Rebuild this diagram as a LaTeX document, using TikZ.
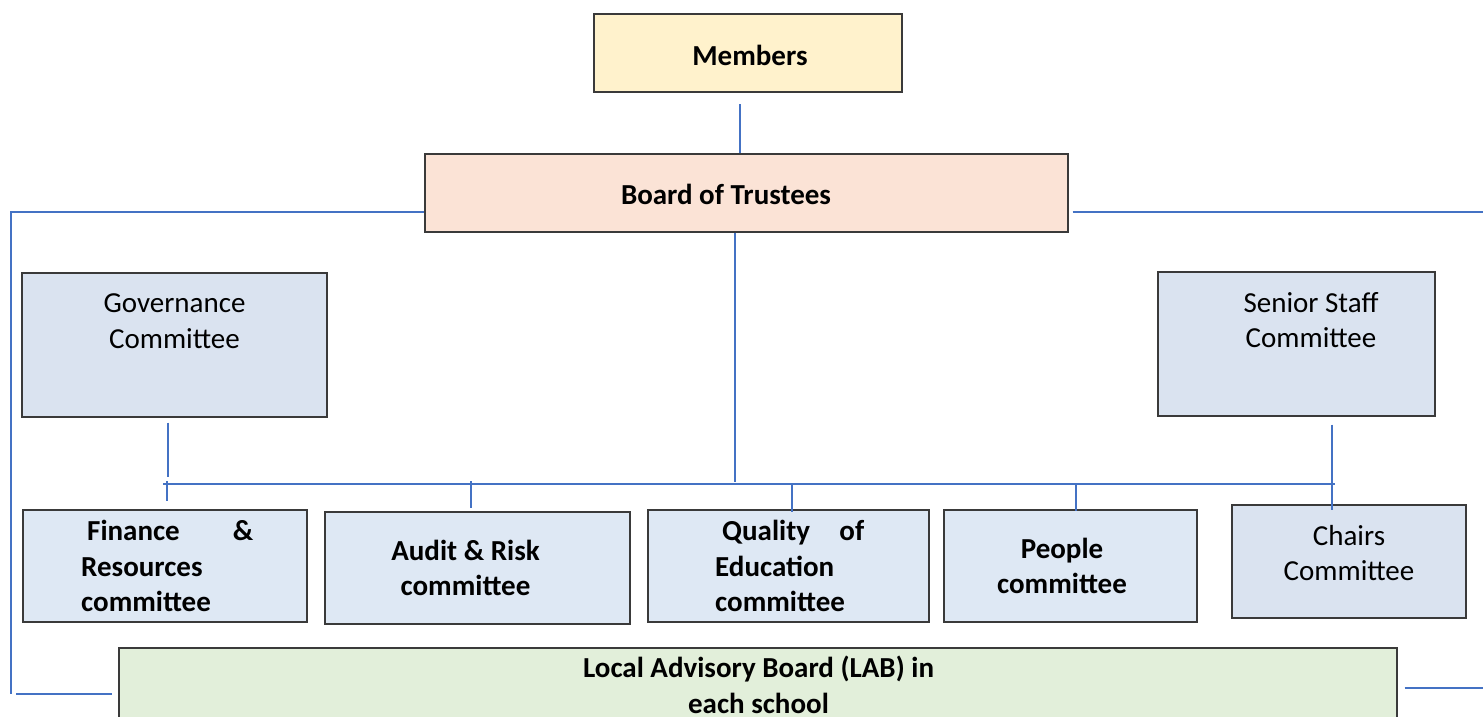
\documentclass[tikz,border=0pt]{standalone}
\usepackage{fontspec}
\setmainfont{Carlito}
\usetikzlibrary{calc}
\definecolor{linkblue}{HTML}{4472C4}
\definecolor{edge}{HTML}{3A3A3A}
\definecolor{memfill}{HTML}{FFF2CC}
\definecolor{botfill}{HTML}{FBE3D6}
\definecolor{comfill}{HTML}{DEE8F4}
\definecolor{grpfill}{HTML}{DAE3F0}
\definecolor{labfill}{HTML}{E2EFDA}
\tikzset{
  box/.style={draw=edge, line width=1.3pt, inner sep=0pt},
  conn/.style={draw=linkblue, line width=1.3pt},
  txt/.style={font=\fontsize{29}{35.5}\selectfont, align=center, inner sep=0pt},
  btxt/.style={txt, font=\fontsize{29}{35.5}\selectfont\bfseries},
}
\begin{document}
\begin{tikzpicture}[x=1pt, y=-1pt]
\path[clip] (0,0) rectangle (1483,717);
\useasboundingbox (0,0) rectangle (1483,717);
\fill[white] (0,0) rectangle (1483,717);

% boxes
\node[box, fill=memfill, minimum width=308pt, minimum height=78pt] (mem) at (748,53) {};
\node[btxt] (memt) at (750,55) {Members};
\node[box, fill=botfill, minimum width=643pt, minimum height=78pt] (bot) at (746.5,193) {};
\node[btxt] (bott) at (726,194) {Board of Trustees};

\node[box, fill=grpfill, minimum width=305pt, minimum height=144pt] (gov) at (174.5,345) {};
\node[txt] (govt) at (174.5,321) {Governance\\Committee};
\node[box, fill=grpfill, minimum width=277pt, minimum height=144pt] (sen) at (1296.5,344) {};
\node[txt] (sent) at (1311,320) {Senior Staff\\Committee};

\node[box, fill=comfill, minimum width=284pt, minimum height=112pt] (fin) at (165,566) {};
\node[btxt, align=left, anchor=west] (fint) at (81,566) {\hbox to 172pt{\hspace{6pt}Finance\hfill\&}\\Resources\\committee};
\node[box, fill=comfill, minimum width=305pt, minimum height=112pt] (aud) at (477.5,568) {};
\node[btxt] (audt) at (465.5,568) {Audit \& Risk\\committee};
\node[box, fill=comfill, minimum width=281pt, minimum height=112pt] (qua) at (788.5,566) {};
\node[btxt, align=left, anchor=west] (quat) at (715,566) {\hbox to 149pt{\hspace{7pt}Quality\hfill of}\\Education\\committee};
\node[box, fill=comfill, minimum width=253pt, minimum height=112pt] (peo) at (1070.5,566) {};
\node[btxt] (peot) at (1062,566) {People\\committee};
\node[box, fill=grpfill, line width=2.2pt, minimum width=234pt, minimum height=113pt] (cha) at (1349,561.5) {};
\node[txt] (chat) at (1349,553) {Chairs\\Committee};

\node[box, fill=labfill, minimum width=1278pt, minimum height=90pt] (lab) at (758,693) {};
\node[btxt] (labt) at (758.5,685) {Local Advisory Board (LAB) in\\each school};

% connectors
\draw[conn] (740,104) -- (bot.north -| 740,0);
\draw[conn] (bot.west |- 0,212) -- (11,212) -- (11,694);
\draw[conn] (16,694) -- ([xshift=-6pt]lab.west |- 0,694);
\draw[conn] ([xshift=4pt]bot.east |- 0,212) -- (1483,212);
\draw[conn] ([xshift=7pt]lab.east |- 0,688) -- (1483,688);
\draw[conn] (bot.south -| 735,0) -- (735,482);
\draw[conn] (163,484) -- (1335,484);
\draw[conn] ($(gov.south -| 168,0)+(0,5)$) -- (168,477);
\draw[conn] (167,481) -- ($(fin.north -| 167,0)+(0,-8)$);
\draw[conn] (471,481) -- ($(aud.north -| 471,0)+(0,-3)$);
\draw[conn] (792,484) -- ($(qua.north -| 792,0)+(0,3)$);
\draw[conn] (1076,484) -- ($(peo.north -| 1076,0)+(0,2)$);
\draw[conn] ($(sen.south -| 1332,0)+(0,8)$) -- ($(cha.north -| 1332,0)+(0,6)$);
\end{tikzpicture}
\end{document}
